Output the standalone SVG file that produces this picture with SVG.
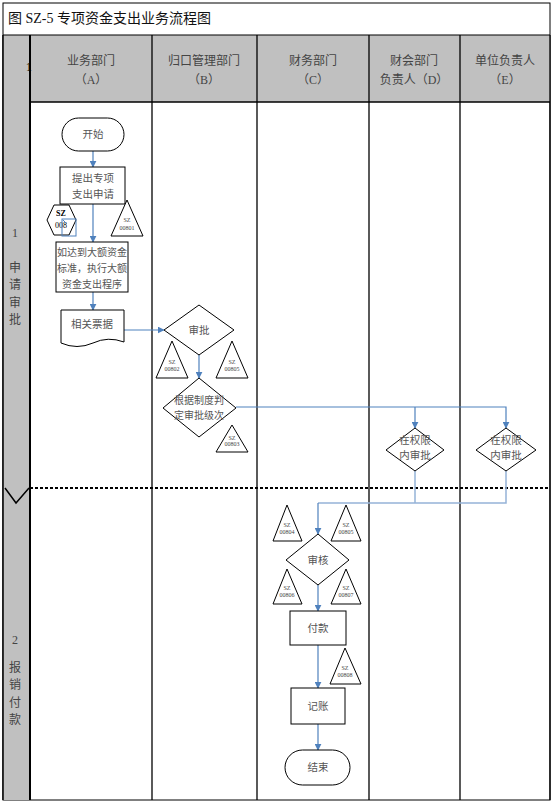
<svg xmlns="http://www.w3.org/2000/svg" width="553" height="803" viewBox="0 0 553 803">
<style>
text{font-family:"Liberation Serif","Noto Sans CJK SC",serif;fill:#444;text-anchor:middle}
.h{font-size:12px}
.n{font-size:10.5px;fill:#555}
.t{font-size:6px}
.s{fill:#fff;stroke:#000;stroke-width:1}
.c{fill:none;stroke:#4f81bd;stroke-width:1.2}
.cl{fill:none;stroke:#95b3d7;stroke-width:1.5}
.g{stroke:#000;stroke-width:1.3}
</style>
<defs>
<marker id="a" viewBox="0 0 10 10" refX="9" refY="5" markerWidth="7" markerHeight="7" orient="auto" markerUnits="userSpaceOnUse"><path d="M0,0L10,5L0,10z" fill="#4f81bd"/></marker>
</defs>
<rect x="0" y="0" width="553" height="803" fill="#fff"/>
<g id="frame">
<rect x="3" y="3" width="547" height="797" fill="#fff" stroke="#000" stroke-width="1"/>
<rect x="3" y="35" width="547" height="67" fill="#c0c0c0"/>
<rect x="3" y="35" width="27" height="765" fill="#c0c0c0"/>
<line x1="3" y1="35" x2="550" y2="35" stroke="#000" stroke-width="1.2"/>
<line x1="30" y1="102" x2="550" y2="102" class="g"/>
<line x1="3" y1="35" x2="3" y2="800" stroke="#000" stroke-width="1.5"/>
<line x1="30" y1="35" x2="30" y2="800" stroke="#000" stroke-width="2"/>
<line x1="152" y1="35" x2="152" y2="800" class="g"/>
<line x1="257" y1="35" x2="257" y2="800" class="g"/>
<line x1="369" y1="35" x2="369" y2="800" class="g"/>
<line x1="460" y1="35" x2="460" y2="800" class="g"/>
<line x1="550" y1="35" x2="550" y2="800" class="g"/>
<line x1="30" y1="488" x2="550" y2="488" stroke="#000" stroke-width="2" stroke-dasharray="3,2"/>
<path d="M5,488L16,503L29,488" fill="none" stroke="#000" stroke-width="1.5"/>
<text x="8" y="23" style="font-size:14px;text-anchor:start;fill:#111">图 SZ-5 专项资金支出业务流程图</text>
<text x="29" y="71" style="font-size:13px;fill:#000">1</text>
<text x="91" y="65" class="h">业务部门</text><text x="91" y="84" class="h">（A）</text>
<text x="204" y="65" class="h">归口管理部门</text><text x="204" y="84" class="h">（B）</text>
<text x="313" y="65" class="h">财务部门</text><text x="313" y="84" class="h">（C）</text>
<text x="414" y="65" class="h">财会部门</text><text x="414" y="84" class="h">负责人（D）</text>
<text x="505" y="65" class="h">单位负责人</text><text x="505" y="84" class="h">（E）</text>
<text x="15" y="237" class="h">1</text>
<text x="15" y="272" class="h">申</text><text x="15" y="289" class="h">请</text><text x="15" y="307" class="h">审</text><text x="15" y="324" class="h">批</text>
<text x="15" y="644" class="h">2</text>
<text x="15" y="672" class="h">报</text><text x="15" y="689" class="h">销</text><text x="15" y="707" class="h">付</text><text x="15" y="724" class="h">款</text>
</g>
<g id="connectors">
<line x1="93" y1="151" x2="93" y2="167" class="c" marker-end="url(#a)"/>
<line x1="93" y1="204" x2="93" y2="242" class="c" marker-end="url(#a)"/>
<line x1="93" y1="292" x2="93" y2="310" class="c" marker-end="url(#a)"/>
<line x1="124" y1="330" x2="164" y2="330" class="c" marker-end="url(#a)"/>
<line x1="199" y1="355" x2="199" y2="378" class="c" marker-end="url(#a)"/>
<path d="M236,407H506V428" class="c" marker-end="url(#a)"/>
<path d="M415,407V428" class="c" marker-end="url(#a)"/>
<path d="M415,471V503" class="cl"/>
<path d="M506,471V503H318" class="cl"/>
<path d="M318,503V534" class="c" marker-end="url(#a)"/>
<line x1="318" y1="585" x2="318" y2="611" class="c" marker-end="url(#a)"/>
<line x1="318" y1="645" x2="318" y2="688" class="c" marker-end="url(#a)"/>
<line x1="318" y1="724" x2="318" y2="750" class="c" marker-end="url(#a)"/>
</g>
<g id="start"><rect x="62" y="118" width="62" height="33" rx="16.5" class="s"/><text x="93" y="138" class="n">开始</text></g>
<g id="apply"><rect x="60" y="167" width="65" height="37" class="s"/><text x="93" y="182" class="n">提出专项</text><text x="93" y="198" class="n">支出申请</text></g>
<g id="hex008"><path d="M54,205H69L76,220L69,235H54L47,220Z" class="s"/><text x="61" y="216" style="font-size:8px;font-weight:bold;fill:#000">SZ</text><text x="61" y="228" style="font-size:8px;fill:#000">008</text><rect x="62" y="219" width="14" height="17" fill="none" stroke="#4f81bd" stroke-width="1"/><path d="M67,224L63,220" stroke="#4f81bd" stroke-width="1" fill="none"/></g>
<g id="tri00801"><path d="M127,200L143,236H111Z" class="s"/><text x="127" y="222" class="t">SZ</text><text x="127" y="230" class="t">00801</text></g>
<g id="large"><rect x="56" y="242" width="72" height="50" class="s"/><text x="92" y="256" style="font-size:10px;fill:#555">如达到大额资金</text><text x="92" y="272" style="font-size:10px;fill:#555">标准，执行大额</text><text x="92" y="288" style="font-size:10px;fill:#555">资金支出程序</text></g>
<g id="docs"><path d="M61,310H124V342Q108,336 93,343Q77,350 61,343Z" class="s"/><text x="92" y="328" class="n">相关票据</text></g>
<g id="approve"><path d="M199,305L234,330L199,355L164,330Z" class="s"/><text x="199" y="334" class="n">审批</text></g>
<g id="tri00802"><path d="M172,341L188,378H156Z" class="s"/><text x="172" y="364" class="t">SZ</text><text x="172" y="371" class="t">00802</text></g>
<g id="tri00805a"><path d="M232,341L248,378H216Z" class="s"/><text x="232" y="364" class="t">SZ</text><text x="232" y="371" class="t">00805</text></g>
<g id="level"><path d="M199,378L236,408L199,437L163,408Z" class="s"/><text x="199" y="404" style="font-size:10px;fill:#555">根据制度判</text><text x="199" y="419" style="font-size:10px;fill:#555">定审批级次</text></g>
<g id="tri00803"><path d="M232,425L248,452H216Z" class="s"/><text x="232" y="440" class="t">SZ</text><text x="232" y="446" class="t">00803</text></g>
<g id="approveD"><path d="M415,428L444,450L415,471L386,450Z" class="s"/><text x="415" y="444" class="n">在权限</text><text x="415" y="459" class="n">内审批</text></g>
<g id="approveE"><path d="M506,428L536,450L506,471L476,450Z" class="s"/><text x="506" y="444" class="n">在权限</text><text x="506" y="459" class="n">内审批</text></g>
<g id="tri00804"><path d="M287,505L302,541H273Z" class="s"/><text x="287" y="527" class="t">SZ</text><text x="287" y="534" class="t">00804</text></g>
<g id="tri00805b"><path d="M346,505L361,541H331Z" class="s"/><text x="346" y="527" class="t">SZ</text><text x="346" y="534" class="t">00805</text></g>
<g id="review"><path d="M318,534L349,560L318,585L286,560Z" class="s"/><text x="318" y="564" class="n">审核</text></g>
<g id="tri00806"><path d="M287,569L302,604H273Z" class="s"/><text x="287" y="590" class="t">SZ</text><text x="287" y="597" class="t">00806</text></g>
<g id="tri00807"><path d="M346,569L361,604H331Z" class="s"/><text x="346" y="590" class="t">SZ</text><text x="346" y="597" class="t">00807</text></g>
<g id="pay"><rect x="290" y="611" width="56" height="34" class="s"/><text x="318" y="632" class="n">付款</text></g>
<g id="tri00808"><path d="M345,648L361,684H330Z" class="s"/><text x="345" y="670" class="t">SZ</text><text x="345" y="677" class="t">00808</text></g>
<g id="book"><rect x="291" y="688" width="54" height="36" class="s"/><text x="318" y="710" class="n">记账</text></g>
<g id="end"><rect x="285" y="750" width="65" height="35" rx="17.5" class="s"/><text x="318" y="771" class="n">结束</text></g>
</svg>
